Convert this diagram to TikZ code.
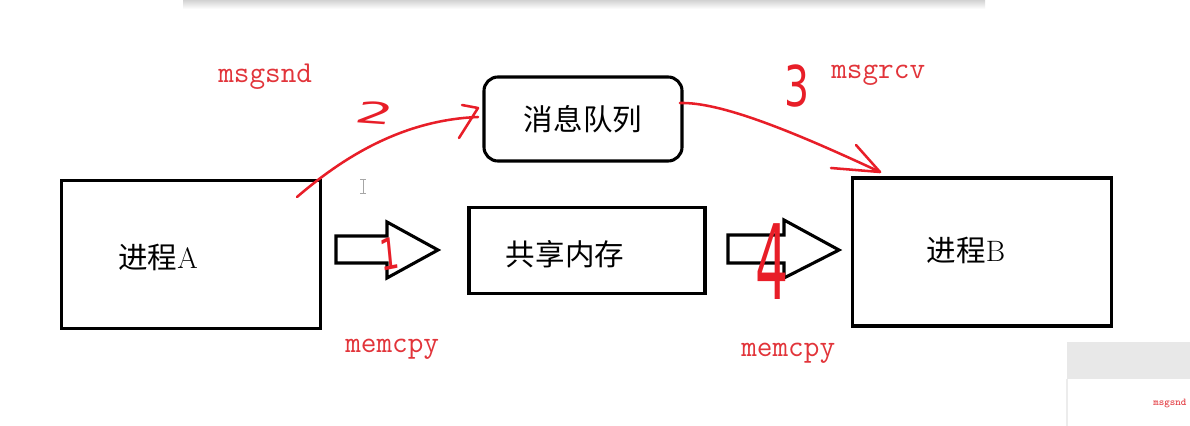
\documentclass[tikz,border=0pt]{standalone}
\usepackage{fontspec}
\newfontfamily\cjk{Noto Sans CJK SC}
\newfontfamily\hand{DejaVu Sans}
\usetikzlibrary{positioning}
\definecolor{pen}{RGB}{232,30,40}
\definecolor{callred}{RGB}{226,52,58}

\begin{document}
\begin{tikzpicture}[x=0.025cm, y=-0.025cm,
    box/.style = {rectangle, draw=black, line width=2.2pt, inner sep=0pt},
    cjktext/.style = {font=\cjk\fontsize{21}{24}\selectfont, inner sep=0pt},
    call/.style = {font=\ttfamily\fontsize{21.6}{23}\selectfont, text=callred, inner sep=0pt, anchor=base west},
    ink/.style = {draw=pen, line width=1.8pt, line cap=round, line join=round},
    digit/.style = {font=\hand, text=pen, inner sep=0pt},
    fat/.style = {draw=black, line width=2.2pt, fill=white, line join=miter}
]
\useasboundingbox (0,0) rectangle (1190,426);
\fill[white] (0,0) rectangle (1190,426);
\shade[top color=gray!35, bottom color=white] (183,0) rectangle (985,9);

\node (pa) [box, minimum width=6.48cm, minimum height=3.72cm] at (191,254.5) {};
\node (ta) [cjktext] at (158,257) {进程{\rmfamily A}};
\node (mq) [box, rounded corners=0.35cm, minimum width=4.95cm, minimum height=2.1cm, cjktext] at (583,119) {消息队列};
\node (shm) [box, minimum width=5.9cm, minimum height=2.15cm] at (587,250.5) {};
\node (tshm) [cjktext] at (565,254) {共享内存};
\node (pb) [box, minimum width=6.48cm, minimum height=3.7cm] at (982,252) {};
\node (tb) [cjktext] at (966,250) {进程{\rmfamily B}};

\draw [fat] (336,236) -- (387,236) -- (387,222) -- (438,250) -- (387,278) -- (387,263) -- (336,263) -- cycle;
\draw [fat] (728,235) -- (784,235) -- (784,220) -- (839,250) -- (784,278) -- (784,263) -- (728,263) -- cycle;

\coordinate (s2) at (297,197);
\coordinate (e2) at (478,117);
\coordinate (s3) at (680,103);
\coordinate (e3) at (880,172);
\draw [ink] (s2) .. controls (340,160) and (400,120) .. (e2);
\draw [ink] (462,105) -- (478,108) -- (459,138);
\draw [ink] (s3) .. controls (720,102) and (790,130) .. (e3);
\draw [ink] (856,145) -- (e3) -- (831,168);

\node (n1) [digit, font=\hand\fontsize{31}{31}\selectfont, xscale=0.7, rotate=8] at (390,254) {1};
\node (n2) [digit, font=\hand\fontsize{21}{21}\selectfont, xscale=2, rotate=-8] at (375,113) {2};
\node (n3) [digit, font=\hand\fontsize{40}{40}\selectfont, xscale=0.7] at (797,86) {3};
\node (n4) [digit, font=\hand\fontsize{74}{74}\selectfont, xscale=0.5] at (772,262) {4};

\node (snd) [call] at (218,83) {msgsnd};
\node (rcv) [call] at (831,79) {msgrcv};
\node (cpa) [call] at (345,352) {memcpy};
\node (cpb) [call] at (741,356) {memcpy};

\draw [gray!70, line width=0.6pt] (360,179) -- (366,179) (363,179) -- (363,193) (360,193) -- (366,193);

\fill [gray!18] (1067,342) rectangle (1190,379);
\draw [gray!15, line width=1pt] (1067,379) -- (1067,426);
\node (corner) [call, font=\ttfamily\fontsize{7.4}{8}\selectfont] at (1153,405) {msgsnd};
\end{tikzpicture}
\end{document}
